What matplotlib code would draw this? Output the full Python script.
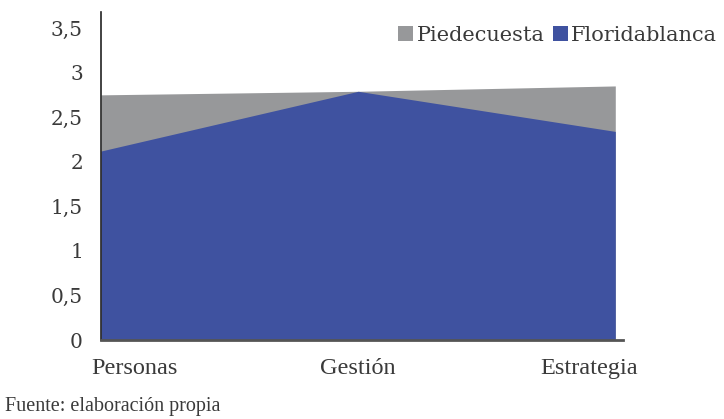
import matplotlib
matplotlib.use("Agg")
import matplotlib.pyplot as plt
from matplotlib.patches import Patch
import numpy as np

categories = ["Personas", "Gestión", "Estrategia"]
piedecuesta = [2.75, 2.79, 2.85]
floridablanca = [2.12, 2.79, 2.34]
y_ticks = [0, 0.5, 1, 1.5, 2, 2.5, 3, 3.5]
y_tick_labels = ["0", "0,5", "1", "1,5", "2", "2,5", "3", "3,5"]

gray = "#97989a"
blue = "#3f52a0"
text_color = "#3a3a3a"
wide_serif = ["DejaVu Serif"]
serif = ["Liberation Serif", "DejaVu Serif"]

fig = plt.figure(figsize=(7.24, 4.19), dpi=100)
ax = fig.add_axes([0.1395, 0.1885, 0.721, 0.783])

x = np.arange(len(categories))
ax.fill_between(x, 0, piedecuesta, color=gray, linewidth=0)
ax.fill_between(x, 0, floridablanca, color=blue, linewidth=0)

ax.set_xlim(0, 2.03)
ax.set_ylim(0, 3.68)

for side in ("top", "right"):
    ax.spines[side].set_visible(False)
ax.spines["left"].set_color("#222222")
ax.spines["left"].set_linewidth(1.2)
ax.spines["bottom"].set_color("#555555")
ax.spines["bottom"].set_linewidth(2.0)

ax.set_yticks(y_ticks)
ax.set_yticklabels(y_tick_labels, fontfamily=wide_serif, fontsize=14.5, color=text_color)
ax.tick_params(axis="y", length=0, pad=13)

# category labels sit slightly inward from the area edges
ax.set_xticks([0.132, 1.0, 1.9])
ax.set_xticklabels(categories, fontfamily=serif, fontsize=17.5, color=text_color)
ax.tick_params(axis="x", length=0, pad=13)

handles = [Patch(facecolor=gray, label="Piedecuesta"),
           Patch(facecolor=blue, label="Floridablanca")]
fig.legend(handles=handles, loc="center", bbox_to_anchor=(0.770, 0.916), ncol=2,
           frameon=False, prop={"family": wide_serif, "size": 15},
           handlelength=0.75, handleheight=0.75, handletextpad=0.15,
           columnspacing=0.4, labelcolor=text_color)

fig.text(0.007, 0.031, "Fuente: elaboración propia", fontfamily=serif,
         fontsize=14.5, color=text_color, ha="left", va="center")

fig.savefig("out.png", dpi=100)
